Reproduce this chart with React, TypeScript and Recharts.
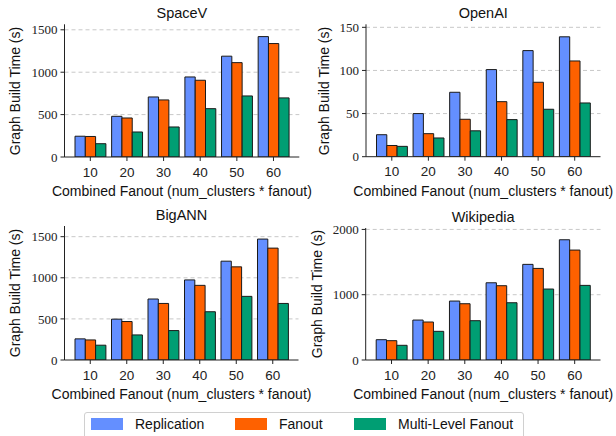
import React from 'react';
import { BarChart, Bar, XAxis, YAxis, CartesianGrid } from 'recharts';

const categories = ['10', '20', '30', '40', '50', '60'];
const seriesNames = ['Replication', 'Fanout', 'Multi-Level Fanout'];
const seriesColors = ['#648FFF', '#FE6100', '#009E73'];

const spacevReplication = [245, 480, 708, 944, 1189, 1420];
const spacevFanout = [242, 460, 673, 905, 1113, 1338];
const spacevMultiLevel = [157, 295, 354, 570, 720, 697];

const openaiReplication = [25.5, 50, 74.7, 101, 123, 139];
const openaiFanout = [13, 26.7, 43.4, 63.8, 86.3, 111];
const openaiMultiLevel = [12, 21.7, 30, 43, 55, 62.3];

const bigannReplication = [257, 497, 742, 974, 1202, 1471];
const bigannFanout = [244, 468, 688, 908, 1133, 1361];
const bigannMultiLevel = [180, 305, 358, 587, 774, 688];

const wikiReplication = [311, 612, 903, 1183, 1465, 1842];
const wikiFanout = [296, 582, 862, 1138, 1403, 1684];
const wikiMultiLevel = [225, 439, 602, 877, 1087, 1143];

const spacevTicks = [0, 500, 1000, 1500];
const openaiTicks = [0, 50, 100, 150];
const bigannTicks = [0, 500, 1000, 1500];
const wikiTicks = [0, 1000, 2000];

const xAxisTitle = 'Combined Fanout (num_clusters * fanout)';
const yAxisTitle = 'Graph Build Time (s)';

const W = 616;
const H = 436;
const SANS = '"Liberation Sans", Arial, sans-serif';
const SERIF = '"Liberation Serif", "DejaVu Serif", serif';
const AXIS_COLOR = '#222';

function buildRows(a: number[], b: number[], c: number[]) {
  return categories.map((cat, i) => ({ cat, s0: a[i], s1: b[i], s2: c[i] }));
}

type PanelProps = {
  title: string;
  rows: { cat: string; s0: number; s1: number; s2: number }[];
  yMax: number;
  ticks: number[];
  plot: { left: number; right: number; top: number; bottom: number };
  yLabelX: number;
};

const Y_AXIS_W = 40;
const X_AXIS_H = 30;

function Panel({ title, rows, yMax, ticks, plot, yLabelX }: PanelProps) {
  const margin = {
    left: plot.left - Y_AXIS_W,
    top: plot.top,
    right: W - plot.right,
    bottom: H - plot.bottom - X_AXIS_H,
  };
  const cx = (plot.left + plot.right) / 2;
  const cy = (plot.top + plot.bottom) / 2;
  return (
    <>
      <div style={{ position: 'absolute', left: 0, top: 0 }}>
        <BarChart
          width={W}
          height={H}
          data={rows}
          margin={margin}
          barGap={0}
          barSize={10.3}
        >
          <CartesianGrid
            vertical={false}
            horizontal
            stroke="#c8c8c8"
            strokeDasharray="4 3"
            horizontalValues={ticks.filter((t) => t > 0)}
          />
          <XAxis
            dataKey="cat"
            height={X_AXIS_H}
            padding={{ left: 7.5, right: 7.5 }}
            stroke={AXIS_COLOR}
            tickSize={4}
            tickMargin={6}
            tick={{ fill: '#222', fontFamily: SANS, fontSize: 13.5 }}
          />
          <XAxis
            xAxisId="top"
            dataKey="cat"
            orientation="top"
            height={0}
            tick={false}
            tickLine={false}
            stroke={AXIS_COLOR}
          />
          <YAxis
            width={Y_AXIS_W}
            domain={[0, yMax]}
            ticks={ticks}
            type="number"
            allowDataOverflow
            stroke={AXIS_COLOR}
            tickSize={4}
            tickMargin={3}
            tick={{ fill: '#222', fontFamily: SERIF, fontSize: 13 }}
          />
          <YAxis
            yAxisId="right"
            orientation="right"
            width={0}
            domain={[0, yMax]}
            tick={false}
            tickLine={false}
            stroke={AXIS_COLOR}
          />
          {seriesNames.map((name, i) => (
            <Bar
              key={name}
              dataKey={'s' + i}
              name={name}
              fill={seriesColors[i]}
              stroke="#1a1a1a"
              strokeWidth={1}
              isAnimationActive={false}
            />
          ))}
        </BarChart>
      </div>
      <div
        style={{
          position: 'absolute',
          left: cx,
          top: plot.top - 11,
          transform: 'translate(-50%, -50%)',
          fontFamily: SANS,
          fontSize: 14.5,
          color: '#111',
          whiteSpace: 'nowrap',
        }}
      >
        {title}
      </div>
      <div
        style={{
          position: 'absolute',
          left: cx,
          top: plot.bottom + 34,
          transform: 'translate(-50%, -50%)',
          fontFamily: SANS,
          fontSize: 14,
          color: '#111',
          whiteSpace: 'nowrap',
        }}
      >
        {xAxisTitle}
      </div>
      <div
        style={{
          position: 'absolute',
          left: yLabelX,
          top: cy,
          transform: 'translate(-50%, -50%) rotate(-90deg)',
          fontFamily: SANS,
          fontSize: 14,
          color: '#111',
          whiteSpace: 'nowrap',
        }}
      >
        {yAxisTitle}
      </div>
    </>
  );
}

function LegendBox() {
  return (
    <div
      style={{
        position: 'absolute',
        left: 84,
        top: 412,
        width: 440,
        height: 28,
        border: '1px solid #d0d0d0',
        borderRadius: 3,
        boxSizing: 'border-box',
        background: '#fff',
      }}
    >
      {seriesNames.map((name, i) => {
        const patchX = [6, 150, 269][i];
        return (
          <React.Fragment key={name}>
            <div
              style={{
                position: 'absolute',
                left: patchX,
                top: 5,
                width: 32,
                height: 12,
                background: seriesColors[i],
              }}
            />
            <div
              style={{
                position: 'absolute',
                left: patchX + 44,
                top: 11,
                transform: 'translateY(-50%)',
                fontFamily: SANS,
                fontSize: 14,
                color: '#111',
                whiteSpace: 'nowrap',
              }}
            >
              {name}
            </div>
          </React.Fragment>
        );
      })}
    </div>
  );
}

export default function App() {
  return (
    <div
      style={{
        position: 'absolute',
        left: 0,
        top: 0,
        width: W,
        height: H,
        background: '#fff',
        overflow: 'hidden',
      }}
    >
      <Panel
        title="SpaceV"
        rows={buildRows(spacevReplication, spacevFanout, spacevMultiLevel)}
        yMax={1565}
        ticks={spacevTicks}
        plot={{ left: 64.5, right: 299.3, top: 24.3, bottom: 157 }}
        yLabelX={15}
      />
      <Panel
        title="OpenAI"
        rows={buildRows(openaiReplication, openaiFanout, openaiMultiLevel)}
        yMax={153.5}
        ticks={openaiTicks}
        plot={{ left: 366, right: 600.5, top: 24.3, bottom: 156.7 }}
        yLabelX={324}
      />
      <Panel
        title="BigANN"
        rows={buildRows(bigannReplication, bigannFanout, bigannMultiLevel)}
        yMax={1630}
        ticks={bigannTicks}
        plot={{ left: 64.5, right: 298.5, top: 226, bottom: 360 }}
        yLabelX={15}
      />
      <Panel
        title="Wikipedia"
        rows={buildRows(wikiReplication, wikiFanout, wikiMultiLevel)}
        yMax={2022}
        ticks={wikiTicks}
        plot={{ left: 365.7, right: 600.5, top: 228, bottom: 360 }}
        yLabelX={317}
      />
      <LegendBox />
    </div>
  );
}
